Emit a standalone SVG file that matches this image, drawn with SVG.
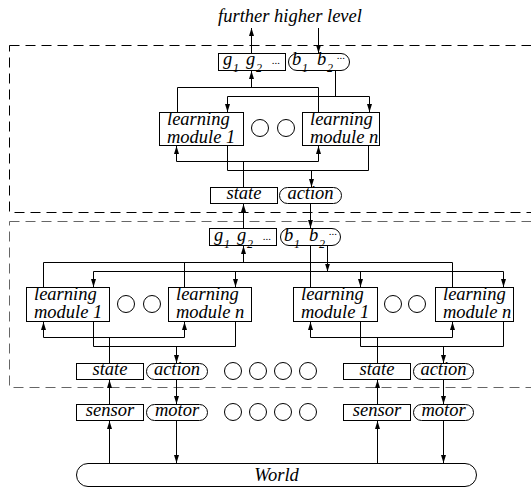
<svg xmlns="http://www.w3.org/2000/svg" width="531" height="489" viewBox="0 0 531 489">
<style>
.t{font-family:'Liberation Serif','Times New Roman',serif;font-style:italic;font-size:18.5px;fill:#000}
.m{text-anchor:middle}
.s{font-size:12px}
.d{font-size:11px}
.box{fill:#fff;stroke:#000;stroke-width:1}
.cir{fill:#fff;stroke:#000;stroke-width:1}
.ln{fill:none;stroke:#000;stroke-width:1}
.ar{fill:none;stroke:#000;stroke-width:1;marker-end:url(#ah)}
.dash1{fill:none;stroke:#000;stroke-width:1;stroke-dasharray:10 6}
.dash2{fill:none;stroke:#666;stroke-width:1;stroke-dasharray:10 6}
</style>
<defs>
<marker id="ah" markerUnits="userSpaceOnUse" markerWidth="8" markerHeight="6" refX="8" refY="2.5" orient="auto">
<path d="M0,0 L8,2.5 L0,5 z" fill="#000"/>
</marker>
</defs>
<rect width="531" height="489" fill="#fff"/>
<g id="levels">
<rect x="9.5" y="45.5" width="540" height="167" class="dash1"/>
<rect x="9.5" y="221.5" width="540" height="166" class="dash2"/>
</g>
<text class="t m" x="290" y="22">further higher level</text>

<g id="connectors">
<path class="ar" d="M251.5,53.5 V28"/>
<path class="ar" d="M318.5,28 V53"/>
<path class="ln" d="M177.5,112.5 V87.5 H318.5 V112.5"/>
<path class="ar" d="M251.5,87.5 V71"/>
<path class="ln" d="M335.5,70.5 V96.5"/>
<path class="ln" d="M227.5,96.5 H369.5"/>
<path class="ar" d="M227.5,96.5 V112"/>
<path class="ar" d="M369.5,96.5 V112"/>
<path class="ln" d="M176.5,161.5 H318.5"/>
<path class="ar" d="M176.5,161.5 V146"/>
<path class="ar" d="M318.5,161.5 V146"/>
<path class="ln" d="M243.5,161.5 V187.5"/>
<path class="ln" d="M227.5,145.5 V170.5 H368.5 V145.5"/>
<path class="ar" d="M311.5,170.5 V187"/>
<path class="ar" d="M243.5,228.5 V204"/>
<path class="ar" d="M310.5,203.5 V228"/>
<path class="ln" d="M43.5,287.5 V262.5 H452.5 V287.5"/>
<path class="ln" d="M184.5,262.5 V287.5"/>
<path class="ln" d="M310.5,245.5 V287.5"/>
<path class="ar" d="M243.5,262.5 V246"/>
<path class="ar" d="M327.5,245.5 V271.5"/>
<path class="ln" d="M93.5,271.5 H503.5"/>
<path class="ar" d="M93.5,271.5 V287"/>
<path class="ar" d="M235.5,271.5 V287"/>
<path class="ar" d="M360.5,271.5 V287"/>
<path class="ar" d="M503.5,271.5 V287"/>
<path class="ln" d="M43.5,337.5 H184.5"/>
<path class="ar" d="M43.5,337.5 V322"/>
<path class="ar" d="M184.5,337.5 V322"/>
<path class="ln" d="M109.5,337.5 V363.5"/>
<path class="ln" d="M310.5,337.5 H452.5"/>
<path class="ar" d="M310.5,337.5 V322"/>
<path class="ar" d="M452.5,337.5 V322"/>
<path class="ln" d="M377.5,337.5 V363.5"/>
<path class="ln" d="M93.5,321.5 V346.5 H235.5 V321.5"/>
<path class="ar" d="M176.5,346.5 V363"/>
<path class="ln" d="M360.5,321.5 V346.5 H503.5 V321.5"/>
<path class="ar" d="M443.5,346.5 V363"/>
<path class="ar" d="M109.5,404.5 V380"/>
<path class="ar" d="M176.5,379.5 V404"/>
<path class="ar" d="M109.5,463.5 V421"/>
<path class="ar" d="M176.5,420.5 V463"/>
<path class="ar" d="M377.5,404.5 V380"/>
<path class="ar" d="M443.5,379.5 V404"/>
<path class="ar" d="M377.5,463.5 V421"/>
<path class="ar" d="M443.5,420.5 V463"/>
</g>

<g id="goals-top">
<rect class="box" x="218.5" y="53.5" width="67" height="17"/>
<text class="t" x="223" y="65">g</text><text class="t s" x="233" y="72">1</text>
<text class="t" x="246" y="65">g</text><text class="t s" x="256" y="72">2</text>
<text class="t d" x="272" y="64">...</text>
</g>
<g id="behaviors-top">
<rect class="box" x="288.5" y="53.5" width="61" height="17" rx="8.5"/>
<text class="t" x="292" y="65">b</text><text class="t s" x="302" y="72">1</text>
<text class="t" x="317" y="65">b</text><text class="t s" x="327" y="72">2</text>
<text class="t d" x="337" y="59">...</text>
</g>
<g id="module1-top">
<rect class="box" x="159.5" y="112.5" width="84" height="33"/>
<text class="t" x="167" y="125">learning</text><text class="t" x="167" y="143">module 1</text>
</g>
<g id="dots-top">
<circle class="cir" cx="260" cy="128" r="8.5"/><circle class="cir" cx="286" cy="128" r="8.5"/>
</g>
<g id="modulen-top">
<rect class="box" x="302.5" y="112.5" width="77" height="33"/>
<text class="t" x="310" y="125">learning</text><text class="t" x="310" y="143">module n</text>
</g>
<g id="state-top">
<rect class="box" x="210.5" y="187.5" width="67" height="16"/>
<text class="t m" x="244" y="199">state</text>
</g>
<g id="action-top">
<rect class="box" x="279.5" y="187.5" width="62" height="16" rx="8"/>
<text class="t m" x="310.5" y="199">action</text>
</g>

<g id="goals-low">
<rect class="box" x="209.5" y="228.5" width="67" height="17"/>
<text class="t" x="214" y="241">g</text><text class="t s" x="224" y="248">1</text>
<text class="t" x="237" y="241">g</text><text class="t s" x="247" y="248">2</text>
<text class="t d" x="263" y="240">...</text>
</g>
<g id="behaviors-low">
<rect class="box" x="280.5" y="228.5" width="60" height="17" rx="8.5"/>
<text class="t" x="284" y="241">b</text><text class="t s" x="294" y="248">1</text>
<text class="t" x="309" y="241">b</text><text class="t s" x="319" y="248">2</text>
<text class="t d" x="329" y="235">...</text>
</g>
<g id="module1-left">
<rect class="box" x="26.5" y="287.5" width="83" height="34"/>
<text class="t" x="34" y="300">learning</text><text class="t" x="34" y="318">module 1</text>
</g>
<g id="dots-left">
<circle class="cir" cx="126" cy="304" r="8.5"/><circle class="cir" cx="152" cy="304" r="8.5"/>
</g>
<g id="modulen-left">
<rect class="box" x="168.5" y="287.5" width="83" height="34"/>
<text class="t" x="176" y="300">learning</text><text class="t" x="176" y="318">module n</text>
</g>
<g id="module1-right">
<rect class="box" x="293.5" y="287.5" width="84" height="34"/>
<text class="t" x="301" y="300">learning</text><text class="t" x="301" y="318">module 1</text>
</g>
<g id="dots-right">
<circle class="cir" cx="393" cy="304" r="8.5"/><circle class="cir" cx="417" cy="304" r="8.5"/>
</g>
<g id="modulen-right">
<rect class="box" x="435.5" y="287.5" width="78" height="34"/>
<text class="t" x="443" y="300">learning</text><text class="t" x="443" y="318">module n</text>
</g>

<g id="state-left">
<rect class="box" x="76.5" y="363.5" width="67" height="16"/>
<text class="t m" x="110" y="375">state</text>
</g>
<g id="action-left">
<rect class="box" x="146.5" y="363.5" width="61" height="16" rx="8"/>
<text class="t m" x="177" y="375">action</text>
</g>
<g id="state-right">
<rect class="box" x="343.5" y="363.5" width="67" height="16"/>
<text class="t m" x="377" y="375">state</text>
</g>
<g id="action-right">
<rect class="box" x="413.5" y="363.5" width="60" height="16" rx="8"/>
<text class="t m" x="443.5" y="375">action</text>
</g>
<g id="dots-state-row">
<circle class="cir" cx="233" cy="371" r="8.5"/><circle class="cir" cx="258" cy="371" r="8.5"/>
<circle class="cir" cx="283" cy="371" r="8.5"/><circle class="cir" cx="308" cy="371" r="8.5"/>
</g>
<g id="sensor-left">
<rect class="box" x="76.5" y="404.5" width="67" height="16"/>
<text class="t m" x="110" y="416">sensor</text>
</g>
<g id="motor-left">
<rect class="box" x="146.5" y="404.5" width="61" height="16" rx="8"/>
<text class="t m" x="177" y="416">motor</text>
</g>
<g id="sensor-right">
<rect class="box" x="343.5" y="404.5" width="67" height="16"/>
<text class="t m" x="377" y="416">sensor</text>
</g>
<g id="motor-right">
<rect class="box" x="413.5" y="404.5" width="60" height="16" rx="8"/>
<text class="t m" x="443.5" y="416">motor</text>
</g>
<g id="dots-sensor-row">
<circle class="cir" cx="233" cy="412" r="8.5"/><circle class="cir" cx="258" cy="412" r="8.5"/>
<circle class="cir" cx="283" cy="412" r="8.5"/><circle class="cir" cx="308" cy="412" r="8.5"/>
</g>
<g id="world">
<rect class="box" x="76.5" y="463.5" width="400" height="23" rx="11.5"/>
<text class="t m" x="276.5" y="481">World</text>
</g>
</svg>
